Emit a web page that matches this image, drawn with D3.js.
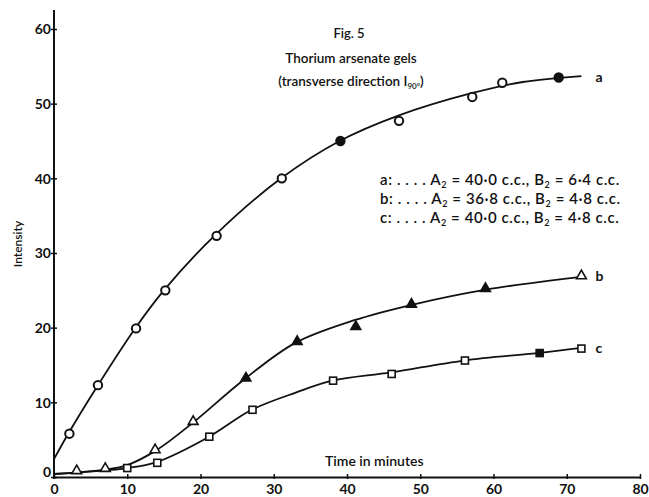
<!DOCTYPE html>
<html>
<head>
<meta charset="utf-8">
<script src="https://cdn.jsdelivr.net/npm/d3@7"></script>
<style>
  body { margin: 0; background: #fff; }
  svg text { font-family: Lato, 'Open Sans', sans-serif; fill: #111; }
</style>
</head>
<body>
<svg id="chart" width="649" height="497"></svg>
<script>
// measured points (time in minutes, intensity)
const aTime = [2.1, 6.0, 11.2, 15.2, 22.2, 31.1, 39.1, 47.1, 57.1, 61.2, 68.9]
const aInt = [5.8, 12.3, 19.9, 25.0, 32.3, 40.0, 45.0, 47.7, 50.9, 52.8, 53.5]
const bTime = [3.1, 7.0, 13.8, 19.0, 26.2, 33.2, 41.2, 48.8, 58.9, 72.0]
const bInt = [0.7, 1.0, 3.5, 7.3, 13.1, 18.0, 20.0, 23.0, 25.1, 26.8]
const cTime = [10.0, 14.1, 21.2, 27.1, 38.1, 46.1, 56.1, 66.3, 72.0]
const cInt = [1.2, 1.9, 5.4, 9.0, 12.9, 13.8, 15.6, 16.6, 17.2]

// hand-drawn fitted curves
const aCurveTime = [0, 2, 6, 11, 15, 22, 31, 39, 47, 57, 64, 72]
const aCurveInt = [2.4, 5.9, 12.3, 19.8, 25.0, 32.4, 40.0, 45.0, 48.4, 51.4, 52.9, 53.7]
const bCurveTime = [0, 7, 10, 14, 19, 26, 33, 41, 49, 59, 72]
const bCurveInt = [0.4, 1.0, 1.6, 3.6, 7.3, 13.1, 18.0, 21.0, 23.1, 25.1, 26.8]
const cCurveTime = [0, 10, 14, 21, 27, 33, 38, 46, 56, 66, 72]
const cCurveInt = [0.4, 1.2, 2.0, 5.3, 9.0, 11.3, 12.9, 14.0, 15.6, 16.6, 17.3]

const xTicks = [0, 10, 20, 30, 40, 50, 60, 70, 80]
const yTicks = [0, 10, 20, 30, 40, 50, 60]

const svg = d3.select('#chart')

const x = d3.scaleLinear().domain([0, 80]).range([54, 640])
const y = d3.scaleLinear().domain([0, 60]).range([477, 29])

// y axis
const yAxis = svg.append('g')
  .attr('transform', 'translate(' + x(0) + ',0)')
  .call(d3.axisLeft(y).tickValues(yTicks).tickFormat(d3.format('d')).tickSize(3).tickSizeOuter(0))
yAxis.select('.domain').remove()
yAxis.selectAll('.tick line').attr('x1', -3).attr('x2', 3).attr('stroke', '#111').attr('stroke-width', 1.5)
yAxis.selectAll('.tick text')
  .attr('x', -3)
  .attr('dy', d => d === 0 ? '-0.05em' : '0.35em')
  .style('font-size', '14px').style('font-weight', 700)
svg.append('line')
  .attr('x1', x(0)).attr('x2', x(0))
  .attr('y1', y(0) + 2).attr('y2', 10)
  .attr('stroke', '#111').attr('stroke-width', 2)

// x axis
const xAxis = svg.append('g')
  .attr('transform', 'translate(0,' + y(0) + ')')
  .call(d3.axisBottom(x).tickValues(xTicks).tickFormat(d3.format('d')).tickSize(3).tickSizeOuter(0))
xAxis.select('.domain').attr('stroke', '#111').attr('stroke-width', 2)
xAxis.selectAll('.tick line').attr('y1', -3).attr('y2', 2).attr('stroke', '#111').attr('stroke-width', 1.5)
xAxis.selectAll('.tick text')
  .attr('y', 6).attr('dy', '0.8em')
  .style('font-size', '14px').style('font-weight', 700)

// axis titles
svg.append('text')
  .attr('x', 325).attr('y', 466)
  .style('font-size', '14px').style('font-weight', 600)
  .text('Time in minutes')
svg.append('text')
  .attr('transform', 'translate(22,244) rotate(-90)')
  .attr('text-anchor', 'middle')
  .style('font-size', '12px').style('font-weight', 600)
  .text('Intensity')

// title
svg.append('text').attr('x', 349).attr('y', 38).attr('text-anchor', 'middle')
  .style('font-size', '13px').style('font-weight', 600).text('Fig. 5')
svg.append('text').attr('x', 351).attr('y', 63).attr('text-anchor', 'middle')
  .style('font-size', '13.5px').style('font-weight', 600).text('Thorium arsenate gels')
const t3 = svg.append('text').attr('x', 351).attr('y', 86).attr('text-anchor', 'middle')
  .style('font-size', '13.5px').style('font-weight', 600)
t3.append('tspan').text('(transverse direction I')
t3.append('tspan').attr('dy', 3).style('font-size', '8px').text('90°')
t3.append('tspan').attr('dy', -3).text(')')

// legend
const legendRows = [
  ['a', '40·0', '6·4'],
  ['b', '36·8', '4·8'],
  ['c', '40·0', '4·8']
]
legendRows.forEach((r, i) => {
  const t = svg.append('text').attr('x', 380).attr('y', 185 + i * 19)
    .style('font-size', '15px').style('font-weight', 600)
    .style('letter-spacing', '0.6px')
  t.append('tspan').text(r[0] + ': . . . . A')
  t.append('tspan').attr('dy', 3).style('font-size', '9px').text('2')
  t.append('tspan').attr('dy', -3).text(' = ' + r[1] + ' c.c., B')
  t.append('tspan').attr('dy', 3).style('font-size', '9px').text('2')
  t.append('tspan').attr('dy', -3).text(' = ' + r[2] + ' c.c.')
})

// curves
const line = d3.line().x(d => x(d[0])).y(d => y(d[1])).curve(d3.curveCatmullRom.alpha(0.5))
const curves = [
  [aCurveTime, aCurveInt],
  [bCurveTime, bCurveInt],
  [cCurveTime, cCurveInt]
]
curves.forEach(c => {
  svg.append('path')
    .datum(d3.zip(c[0], c[1]))
    .attr('d', line)
    .attr('fill', 'none')
    .attr('stroke', '#111')
    .attr('stroke-width', 1.8)
})

// markers
svg.append('g').selectAll('circle')
  .data(d3.zip(aTime, aInt))
  .join('circle')
  .attr('cx', d => x(d[0])).attr('cy', d => y(d[1]))
  .attr('r', 4.2)
  .attr('fill', (d, i) => (i === 6 || i === 10) ? '#111' : '#fff')
  .attr('stroke', '#111').attr('stroke-width', 2)

const tri = d3.symbol().type(d3.symbolTriangle).size(42)
svg.append('g').selectAll('path')
  .data(d3.zip(bTime, bInt))
  .join('path')
  .attr('transform', d => 'translate(' + x(d[0]) + ',' + (y(d[1]) - 1) + ')')
  .attr('d', tri)
  .attr('fill', (d, i) => (i >= 4 && i < 9) ? '#111' : '#fff')
  .attr('stroke', '#111').attr('stroke-width', 1.6)

svg.append('g').selectAll('rect')
  .data(d3.zip(cTime, cInt))
  .join('rect')
  .attr('x', d => x(d[0]) - 3.5).attr('y', d => y(d[1]) - 3.5)
  .attr('width', 7).attr('height', 7)
  .attr('fill', (d, i) => i === 7 ? '#111' : '#fff')
  .attr('stroke', '#111').attr('stroke-width', 1.6)

// curve labels
const ends = [['a', 53.6], ['b', 26.9], ['c', 17.3]]
ends.forEach(e => {
  svg.append('text')
    .attr('x', x(72) + 14).attr('y', y(e[1]))
    .attr('dy', '0.35em')
    .style('font-size', '14px').style('font-weight', 700)
    .text(e[0])
})
</script>
</body>
</html>
